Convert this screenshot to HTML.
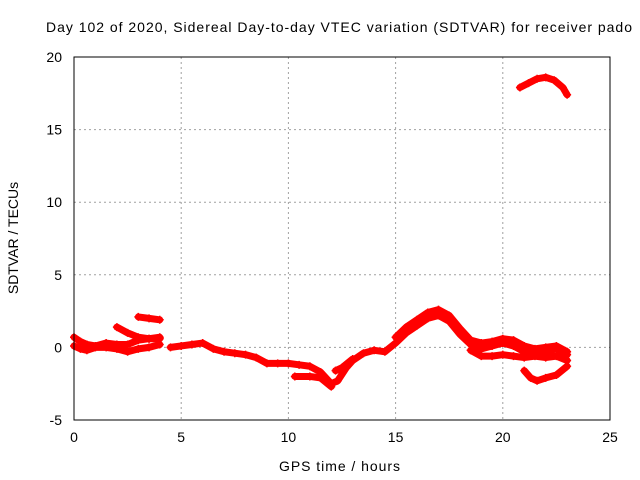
<!DOCTYPE html>
<html><head><meta charset="utf-8"><style>
body{margin:0;background:#fff;}
svg{display:block;font-family:"Liberation Sans",sans-serif;}
</style></head><body>
<svg id="chart" width="640" height="480">
<rect x="0" y="0" width="640" height="480" fill="#fff"/>
<text x="46" y="32" font-size="14" textLength="586" lengthAdjust="spacing">Day 102 of 2020, Sidereal Day-to-day VTEC variation (SDTVAR) for receiver pado</text>
<g id="grid"></g>
<g id="series"></g>
<rect x="74" y="57" width="536" height="363" fill="none" stroke="#000" stroke-width="1"/>
<g id="ticks"></g>
<text x="279" y="471" font-size="14" textLength="121" lengthAdjust="spacing">GPS time / hours</text>
<text x="18" y="238" font-size="14" text-anchor="middle" transform="rotate(-90 18 238)">SDTVAR / TECUs</text>
</svg>
<script>
const xTicks=[0,5,10,15,20,25];
const yTicks=[-5,0,5,10,15,20];
const trackA=[[0,0.7],[0.3,0.4],[0.6,0.2],[1,0.1],[1.5,0.3],[2,0.2],[2.5,0.2],[3,0.5],[3.5,0.6],[4,0.6]];
const trackA2=[[0,0.1],[0.3,-0.1],[0.6,-0.2],[1,0],[1.5,0],[2,-0.1],[2.5,-0.3],[3,-0.1],[3.5,0],[4,0.2]];
const trackB=[[2,1.4],[2.5,1.0],[3,0.7],[3.5,0.6],[4,0.7]];
const trackC=[[3,2.1],[3.5,2.0],[4,1.9]];
const mainTrack=[[4.5,0],[5,0.1],[5.5,0.2],[6,0.3],[6.5,-0.1],[7,-0.3],[7.5,-0.4],[8,-0.5],[8.5,-0.7],[9,-1.1],[9.5,-1.1],[10,-1.1],[10.5,-1.2],[11,-1.3],[11.5,-1.7],[12,-2.5],[12.3,-2.3],[12.7,-1.4],[13,-0.9],[13.5,-0.4],[14,-0.2],[14.5,-0.3],[15,0.3],[15.5,1.0],[16,1.5],[16.5,2.0],[17,2.2],[17.5,1.8],[18,0.9],[18.5,0.2],[19,-0.1],[19.5,0.1],[20,0.3],[20.5,0.1],[21,-0.3],[21.5,-0.4],[22,-0.3],[22.5,-0.1],[23,-0.5]];
const mainTrack2=[[15,0.7],[15.5,1.4],[16,1.9],[16.5,2.4],[17,2.6],[17.5,2.2],[18,1.3],[18.5,0.5],[19,0.3],[19.5,0.4],[20,0.6],[20.5,0.5],[21,0.1],[21.5,-0.1],[22,0],[22.5,0.1],[23,-0.3]];
const mainTrack3=[[18.5,-0.2],[19,-0.6],[19.5,-0.6],[20,-0.5],[20.5,-0.6],[21,-0.7],[21.5,-0.6],[22,-0.7],[22.5,-0.6],[23,-0.9]];
const dipTrack=[[10.3,-2.0],[11,-2.0],[11.5,-2.1],[12,-2.7]];
const lateTrack=[[21,-1.6],[21.3,-2.1],[21.6,-2.3],[22,-2.1],[22.5,-1.9],[23,-1.3]];
const bandTrack=[[12.2,-1.6],[12.5,-1.4],[13,-0.8]];
const arcTrack=[[20.8,17.9],[21.2,18.2],[21.6,18.5],[22,18.6],[22.4,18.4],[22.8,17.9],[23,17.4]];
const allTracks=[trackA,trackA2,trackB,trackC,mainTrack,mainTrack2,mainTrack3,dipTrack,lateTrack,bandTrack,arcTrack];
const X=v=>74+(v/25)*536;
const Y=v=>420-((v+5)/25)*363;
const NS='http://www.w3.org/2000/svg';
const grid=document.getElementById('grid'),ticks=document.getElementById('ticks'),ser=document.getElementById('series');
function mk(tag,attrs,parent){const e=document.createElementNS(NS,tag);for(const k in attrs)e.setAttribute(k,attrs[k]);parent.appendChild(e);return e;}
xTicks.forEach(t=>{
 if(t>0&&t<25){const g=mk('line',{x1:X(t),x2:X(t),y1:57,y2:420,stroke:'#a0a0a0','stroke-dasharray':'2,3'},grid);
 
 }
 const l=mk('text',{x:X(t),y:442,'font-size':14,'text-anchor':'middle'},ticks);l.textContent=t;
 
 
});
yTicks.forEach(t=>{
 if(t>-5&&t<20){const g=mk('line',{x1:74,x2:610,y1:Y(t),y2:Y(t),stroke:'#a0a0a0','stroke-dasharray':'2,3'},grid);
 
 }
 const l=mk('text',{x:62,y:Y(t)+5,'font-size':14,'text-anchor':'end'},ticks);l.textContent=t;
 
 
});
allTracks.forEach(tr=>{
 const p=mk('polyline',{points:tr.map(d=>X(d[0])+','+Y(d[1])).join(' '),fill:'none',stroke:'#ff0000','stroke-width':7,'stroke-linejoin':'round','stroke-linecap':'round'},ser);
 
 
 tr.forEach(d=>{
  const m=mk('path',{d:`M${X(d[0])-4},${Y(d[1])}h8M${X(d[0])},${Y(d[1])-4}v8`,stroke:'#ff0000','stroke-width':1.5},ser);
  
  
 });
});
</script>
</body></html>
